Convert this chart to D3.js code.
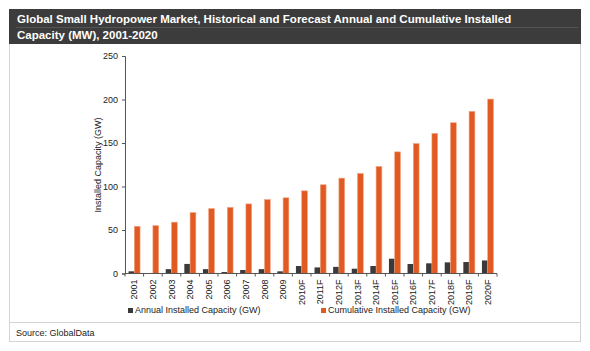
<!DOCTYPE html>
<html lang="en">
<head>
<meta charset="UTF-8">
<title>Small Hydropower</title>
<script src="https://d3js.org/d3.v7.min.js"></script>
<style>
  body { margin: 0; background: #fff; }
  text { font-family: "Liberation Sans", Arial, sans-serif; }
</style>
</head>
<body>
<script>
const years = ["2001","2002","2003","2004","2005","2006","2007","2008","2009","2010F",
               "2011F","2012F","2013F","2014F","2015F","2016F","2017F","2018F","2019F","2020F"];
const annual = [2.5, 0.4, 5, 11, 5, 1.7, 4, 5, 2.5, 8.6, 7, 7.6, 5.5, 8.6, 17, 10.9, 11.7, 12.8, 13.2, 15];
const cumulative = [54.3, 55, 59, 70, 74.6, 76, 80, 85, 87, 95, 102, 109.6, 115, 123, 139.8, 149.3, 161, 173.3, 186.3, 200.5];
const yTicks = [0, 50, 100, 150, 200, 250];
const seriesNames = ["Annual Installed Capacity (GW)", "Cumulative Installed Capacity (GW)"];

const w = 590, h = 351;
const colors = ["#3a3a3a", "#e05a22"];

const svg = d3.select("body").append("svg")
  .attr("width", w).attr("height", h);

// frame + title bar
svg.append("rect").attr("x", 9.5).attr("y", 9.5).attr("width", 571).attr("height", 313)
  .attr("fill", "#fff").attr("stroke", "#d4d4d4");
svg.append("rect").attr("x", 9.5).attr("y", 322.5).attr("width", 571).attr("height", 19)
  .attr("fill", "#fff").attr("stroke", "#d4d4d4");
svg.append("rect").attr("x", 9).attr("y", 9).attr("width", 572).attr("height", 35).attr("fill", "#3c3c3c");
svg.append("line").attr("x1", 16).attr("x2", 578).attr("y1", 27.5).attr("y2", 27.5)
  .attr("stroke", "#555");
const title = svg.append("text").attr("fill", "#fff").attr("font-weight", "bold").attr("font-size", 11.5);
title.append("tspan").attr("x", 17).attr("y", 23).text("Global Small Hydropower Market, Historical and Forecast Annual and Cumulative Installed");
title.append("tspan").attr("x", 17).attr("y", 39).text("Capacity (MW), 2001-2020");

svg.append("text").attr("x", 16).attr("y", 335.5).attr("font-size", 9).attr("fill", "#222")
  .text("Source: GlobalData");

// scales
const x = d3.scaleBand().domain(years).range([125, 497]).paddingInner(0.38).paddingOuter(0.19);
const xs = d3.scaleBand().domain([0, 1]).range([0, x.bandwidth()]);
const y = d3.scaleLinear().domain([0, 250]).range([273.5, 56]);

// axes
svg.append("g").attr("transform", "translate(125,0)")
  .call(d3.axisLeft(y).tickValues(yTicks).tickSize(3).tickPadding(4))
  .call(g => g.select(".domain").attr("stroke", "#555"))
  .call(g => g.selectAll(".tick line").attr("stroke", "#555"))
  .call(g => g.selectAll("text").attr("font-size", 9).attr("fill", "#222").attr("font-family", "Liberation Sans, Arial, sans-serif"));

svg.append("text").attr("transform", "translate(101,165) rotate(-90)")
  .attr("text-anchor", "middle").attr("font-size", 9).attr("fill", "#222")
  .text("Installed Capacity (GW)");

// bars
const groups = svg.append("g").selectAll("g").data(years).join("g")
  .attr("transform", d => `translate(${x(d)},0)`);
groups.selectAll("rect").data((d, i) => [annual[i], cumulative[i]]).join("rect")
  .attr("x", (d, j) => xs(j))
  .attr("width", xs.bandwidth())
  .attr("y", d => y(d))
  .attr("height", d => y(0) - y(d))
  .attr("fill", (d, j) => colors[j])
  .attr("stroke", (d, j) => j === 1 ? "#f2a383" : "none")
  .attr("stroke-width", 0.6);

// x axis
const xAxisG = svg.append("g").attr("transform", `translate(0,${y(0)})`);
xAxisG.append("line").attr("x1", 125).attr("x2", 497).attr("stroke", "#555");
const step = x.step();
xAxisG.selectAll("line.tk").data(d3.range(years.length + 1)).join("line").attr("class", "tk")
  .attr("x1", i => 125 + i * (372 / years.length)).attr("x2", i => 125 + i * (372 / years.length))
  .attr("y1", 0).attr("y2", 3).attr("stroke", "#555");
xAxisG.selectAll("text").data(years).join("text")
  .attr("transform", d => `translate(${x(d) + x.bandwidth() / 2 + 3},6) rotate(-90)`)
  .attr("text-anchor", "end").attr("font-size", 9).attr("fill", "#222")
  .text(d => d);

// legend
const legendX = [128, 321];
const lg = svg.append("g").selectAll("g").data(seriesNames).join("g")
  .attr("transform", (d, i) => `translate(${legendX[i]},313)`);
lg.append("rect").attr("x", 0).attr("y", -5).attr("width", 5).attr("height", 5)
  .attr("fill", (d, i) => colors[i]);
lg.append("text").attr("x", 7).attr("y", 0).attr("font-size", 9).attr("fill", "#222")
  .text(d => d);
</script>
</body>
</html>
